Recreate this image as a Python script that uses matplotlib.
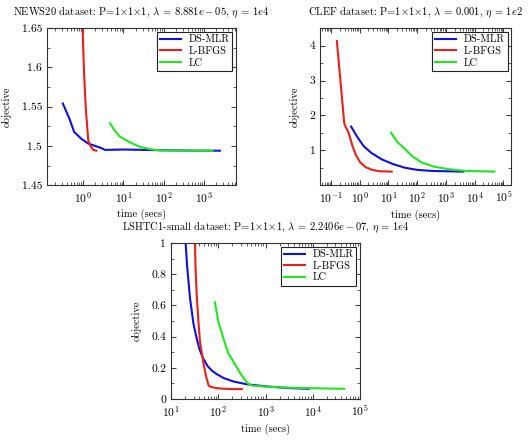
import matplotlib
matplotlib.use('Agg')
import matplotlib.pyplot as plt
from matplotlib.ticker import LogLocator, NullFormatter, AutoMinorLocator

plt.rcParams['font.family'] = 'cmr10'
plt.rcParams['mathtext.fontset'] = 'cm'
plt.rcParams['axes.formatter.use_mathtext'] = True
plt.rcParams['axes.unicode_minus'] = False

BLUE = '#1010e0'
RED = '#e8201c'
GREEN = '#22e622'

# ── NEWS20 ──
news_ds_t = [0.31, 0.45, 0.59, 0.9, 1.33, 2.6, 3.5, 10, 30, 100, 1000, 2500]
news_ds_y = [1.554, 1.535, 1.518, 1.509, 1.503, 1.498, 1.495, 1.4955, 1.495,
             1.4945, 1.494, 1.494]
news_lb_t = [0.9, 0.96, 1.05, 1.16, 1.33, 1.55, 1.77, 2.1]
news_lb_y = [1.70, 1.65, 1.59, 1.546, 1.507, 1.499, 1.495, 1.494]
news_lc_t = [4.6, 6, 8.1, 14, 25, 45, 80, 300, 1660]
news_lc_y = [1.529, 1.52, 1.512, 1.505, 1.499, 1.496, 1.4944, 1.494, 1.494]

# ── CLEF ──
clef_ds_t = [0.5, 0.8, 1.37, 2.5, 5.9, 15, 38, 100, 320, 1000, 4100]
clef_ds_y = [1.68, 1.40, 1.12, 0.93, 0.74, 0.60, 0.50, 0.44, 0.41, 0.40, 0.39]
clef_lb_t = [0.16, 0.29, 0.41, 0.56, 0.75, 1.05, 1.6, 2.7, 5, 13]
clef_lb_y = [4.13, 1.76, 1.50, 1.12, 0.85, 0.65, 0.52, 0.44, 0.40, 0.39]
clef_lc_t = [12.3, 20, 38, 70, 144, 400, 1230, 5000, 49000]
clef_lc_y = [1.50, 1.25, 1.03, 0.82, 0.65, 0.53, 0.46, 0.41, 0.39]

# ── LSHTC1-small ──
lsh_ds_t = [20.4, 22, 25.3, 30, 34.9, 40, 48, 60, 75, 93, 130, 209, 400,
            1070, 3000, 8300]
lsh_ds_y = [1.0, 0.85, 0.645, 0.48, 0.39, 0.32, 0.26, 0.21, 0.18, 0.16,
            0.135, 0.113, 0.095, 0.081, 0.071, 0.066]
lsh_lb_t = [32.2, 33, 35, 38, 41, 48, 55, 62, 67, 85, 109, 200, 316]
lsh_lb_y = [1.0, 0.85, 0.67, 0.5, 0.37, 0.24, 0.15, 0.09, 0.08, 0.072,
            0.068, 0.064, 0.064]
lsh_lc_t = [85, 100, 128, 160, 209, 300, 420, 510, 1000, 2400, 10000, 46000]
lsh_lc_y = [0.62, 0.5, 0.39, 0.3, 0.24, 0.16, 0.1, 0.087, 0.08, 0.074,
            0.07, 0.066]

labels = ['DS-MLR', 'L-BFGS', 'LC']

fig = plt.figure(figsize=(5.31, 4.41), dpi=100)
ax1 = fig.add_axes([0.0885, 0.580, 0.356, 0.356])
ax2 = fig.add_axes([0.603, 0.580, 0.360, 0.356])
ax3 = fig.add_axes([0.322, 0.095, 0.356, 0.354])


def style(ax, title, xlim, ylim, yticks, ylabels):
    ax.set_xscale('log')
    ax.set_xlim(*xlim)
    ax.set_ylim(*ylim)
    ax.set_yticks(yticks)
    ax.set_yticklabels(ylabels)
    ax.yaxis.set_minor_locator(AutoMinorLocator(2))
    ax.xaxis.set_major_locator(LogLocator(base=10, numticks=20))
    ax.xaxis.set_minor_locator(LogLocator(base=10, subs=range(2, 10), numticks=20))
    ax.xaxis.set_minor_formatter(NullFormatter())
    ax.tick_params(which='both', direction='in', top=True, right=True,
                   labelsize=8.3, color='#444444')
    ax.tick_params(which='major', length=3.5)
    ax.tick_params(which='minor', length=2)
    for sp in ax.spines.values():
        sp.set_color('#333333')
        sp.set_linewidth(0.8)
    ax.set_xlabel('time (secs)', fontsize=7.5, labelpad=3)
    ax.set_ylabel('objective', fontsize=7.5, labelpad=7)
    ax.set_title(title, fontsize=7.6, pad=9)
    leg = ax.legend(loc='upper right', fontsize=7.5, fancybox=False,
                    framealpha=1, edgecolor='#222222', handlelength=2.0,
                    borderpad=0.3, labelspacing=0.2, handletextpad=0.7,
                    borderaxespad=0.35)
    leg.get_frame().set_linewidth(0.8)


lw = 1.5
ax1.plot(news_ds_t, news_ds_y, color=BLUE, lw=lw, label=labels[0])
ax1.plot(news_lb_t, news_lb_y, color=RED, lw=lw, label=labels[1])
ax1.plot(news_lc_t, news_lc_y, color=GREEN, lw=lw, label=labels[2])
style(ax1, r'NEWS20 dataset: P=1$\times$1$\times$1, $\lambda$ = 8.881$e-$05, $\eta$ = 1$e$4',
      (0.125, 6300), (1.45, 1.65), [1.45, 1.5, 1.55, 1.6, 1.65],
      ['1.45', '1.5', '1.55', '1.6', '1.65'])

ax2.plot(clef_ds_t, clef_ds_y, color=BLUE, lw=lw, label=labels[0])
ax2.plot(clef_lb_t, clef_lb_y, color=RED, lw=lw, label=labels[1])
ax2.plot(clef_lc_t, clef_lc_y, color=GREEN, lw=lw, label=labels[2])
style(ax2, r'CLEF dataset: P=1$\times$1$\times$1, $\lambda$ = 0.001, $\eta$ = 1$e$2',
      (0.042, 190000), (0, 4.5), [1, 2, 3, 4], ['1', '2', '3', '4'])

ax3.plot(lsh_ds_t, lsh_ds_y, color=BLUE, lw=lw, label=labels[0])
ax3.plot(lsh_lb_t, lsh_lb_y, color=RED, lw=lw, label=labels[1])
ax3.plot(lsh_lc_t, lsh_lc_y, color=GREEN, lw=lw, label=labels[2])
style(ax3, r'LSHTC1-small dataset: P=1$\times$1$\times$1, $\lambda$ = 2.2406$e-$07, $\eta$ = 1$e$4',
      (10, 100000), (0, 1), [0, 0.2, 0.4, 0.6, 0.8, 1],
      ['0', '0.2', '0.4', '0.6', '0.8', '1'])

fig.savefig('out.png', dpi=100)
